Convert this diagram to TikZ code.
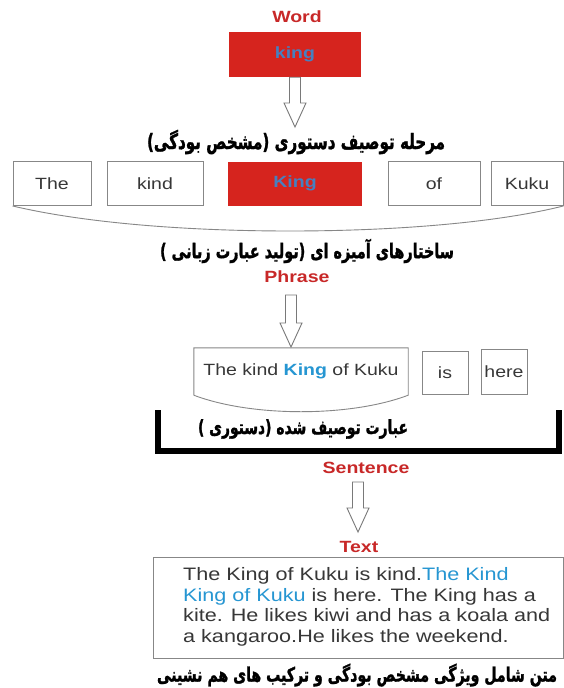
\documentclass[tikz,border=0pt]{standalone}
\usepackage{fontspec}
\usepackage{graphicx}
\usetikzlibrary{calc}
\setmainfont{Liberation Sans}[FakeStretch=1.2]
\newfontfamily\fafont{DejaVu Sans}[Script=Arabic, BoldFeatures={FakeBold=1.6}]
\TeXXeTstate=1
\definecolor{cRed}{RGB}{200,40,40}
\definecolor{cBox}{RGB}{214,36,30}
\definecolor{cSteel}{RGB}{70,128,192}
\definecolor{cBlue}{RGB}{38,150,210}
\definecolor{cGray}{RGB}{55,55,55}
\definecolor{cEdge}{RGB}{135,135,135}
\newcommand\fatext[2]{\scalebox{1}[1.4]{\resizebox{#1pt}{!}{\fafont\bfseries #2}}}
\newcommand\hollowarrow[2]{%
  \draw[hollow] let \p1=(#1), \p2=(#2) in
    (\x1-5.5pt,\y1) -- (\x1-5.5pt,\y2+24pt) -- (\x1-11pt,\y2+24pt) -- (\x1,\y2)
    -- (\x1+11pt,\y2+24pt) -- (\x1+5.5pt,\y2+24pt) -- (\x1+5.5pt,\y1) -- cycle;}
\tikzset{
  lbl/.style={text=cRed, font=\fontsize{16.25}{18}\selectfont\bfseries, inner sep=0},
  wbox/.style={draw=cEdge, line width=0.9pt, text=cGray, font=\fontsize{16.25}{18}\selectfont, inner sep=0},
  redbox/.style={fill=cBox, text=cSteel, font=\fontsize{16.25}{18}\selectfont\bfseries, inner sep=0},
  hollow/.style={draw=cEdge!90!black, fill=white, line width=0.9pt, line join=miter},
  faline/.style={inner sep=0, text=black},
}
\begin{document}
\begin{tikzpicture}[x=1pt,y=-1pt]
\fill[white] (0,0) rectangle (564,688);
\useasboundingbox (0,0) rectangle (564,688);

% Word level
\node[lbl] (wordlbl) at (297,17) {Word};
\node[redbox, minimum width=132, minimum height=45] (wordbox) at (295,54.5) {king};
\coordinate (tip1) at (295,127);
\hollowarrow{wordbox.south}{tip1}
\node[faline] (t1) at (296,142) {\fatext{298}{\beginR مرحله توصیف دستوری (مشخص بودگی)\endR}};

% word row
\node[wbox, minimum width=78, minimum height=44] (the) at (52,183.5) {The};
\node[wbox, minimum width=96, minimum height=44] (kind) at (155,183.5) {kind};
\node[redbox, minimum width=134, minimum height=44] (king) at (295,183.5) {King};
\node[wbox, minimum width=92, minimum height=44] (of) at (434,183.5) {of};
\node[wbox, minimum width=72, minimum height=44] (kuku) at (527,183.5) {Kuku};
\draw[draw=cEdge, line width=0.9pt] (the.south west) .. controls (80,222) and (180,231) .. (290,231)
  .. controls (400,231) and (500,222) .. (kuku.south east);
\node[faline] (t2) at (307,251) {\fatext{294}{\beginR ساختارهای آمیزه ای (تولید عبارت زبانی )\endR}};

% Phrase level
\node[lbl] (phraselbl) at (297,277) {Phrase};
\coordinate (a2top) at (291,295);
\coordinate (tip2) at (291,347);
\hollowarrow{a2top}{tip2}
\node[inner sep=0, minimum width=214, minimum height=47, text=cGray, font=\fontsize{16.25}{18}\selectfont] (phrase) at (301,371.5)
  {The kind \textcolor{cBlue}{\bfseries King} of Kuku};
\draw[draw=cEdge, line width=0.9pt] (phrase.south west) -- (phrase.north west) -- (phrase.north east) -- (phrase.south east)
  .. controls ($(phrase.south east)+(-58,22)$) and ($(phrase.south west)+(58,22)$) .. (phrase.south west);
\node[wbox, minimum width=46, minimum height=43] (is) at (445,372.5) {is};
\node[wbox, minimum width=46, minimum height=45] (here) at (504,371.5) {here};

% Sentence bracket
\coordinate (bl) at (158,410);
\coordinate (br) at (559,410);
\draw[line width=5.5pt, black] (bl) -- (158,451) -- (559,451) -- (br);
\node[faline] (t3) at (303,429) {\fatext{210}{\beginR عبارت توصیف شده (دستوری )\endR}};

% Sentence / Text
\node[lbl] (sentlbl) at (366,468) {Sentence};
\coordinate (a3top) at (358,482);
\coordinate (tip3) at (358,532);
\hollowarrow{a3top}{tip3}
\node[lbl] (textlbl) at (359,547) {Text};
\node[draw=cEdge, line width=0.9pt, minimum width=410, minimum height=101, inner sep=0] (textbox) at (358,607.5) {};
\node[anchor=west, inner sep=0, align=left, text=cGray, font=\fontsize{18}{20.5}\selectfont] (para) at (183,607)
  {The King of Kuku is kind.\textcolor{cBlue}{The Kind}\\
   \textcolor{cBlue}{King of Kuku} is here. The King has a\\
   kite. He likes kiwi and has a koala and\\
   a kangaroo.He likes the weekend.};
\node[faline] (t4) at (357,675) {\fatext{400}{\beginR متن شامل ویژگی مشخص بودگی و ترکیب های هم نشینی\endR}};
\end{tikzpicture}
\end{document}
